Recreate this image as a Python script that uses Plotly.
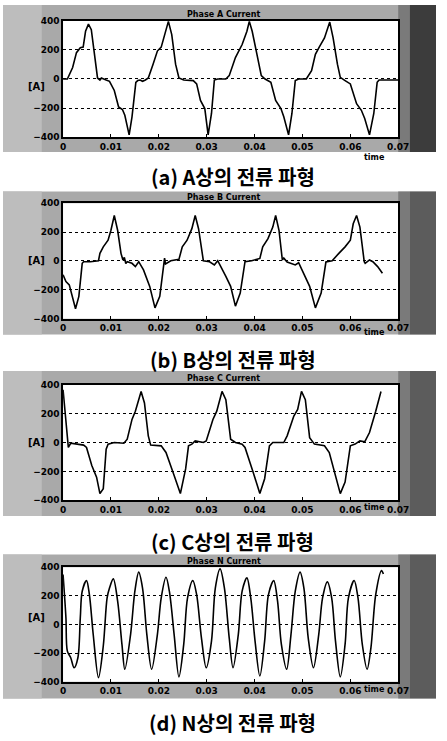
import plotly.graph_objects as go

# ---------------- data (time in ms, current in A) ----------------
a_t = [0, 0.9, 2.0, 2.8, 3.6, 4.2, 4.7, 5.3, 5.9, 6.7, 7.2, 7.7, 8.0, 9.0, 9.7, 10.7, 11.6, 12.4, 12.9, 13.8, 14.4, 15.2, 15.6, 16.1, 16.6, 17.2,
       17.8, 18.8, 19.7, 20.5, 21.2, 22.0, 22.7, 23.5, 24.2, 25.2, 27.2, 27.9, 28.7, 29.6, 30.3, 31.0, 31.6, 32.3, 34.0,
       34.7, 36.0, 37.4, 38.4, 38.9, 39.5, 40.7, 41.4, 42.2, 43.4, 44.4, 45.5, 46.1, 47.1, 47.8, 48.5, 49.2, 50.8,
       51.9, 52.7, 53.5, 54.6, 55.7, 56.4, 57.3, 57.9, 58.9, 60.0, 61.3, 62.3, 63.0, 64.0, 64.9, 65.6, 66.0, 70.0]
a_i = [0, 0, 79, 181, 215, 219, 328, 377, 339, 124, 7, -7, 7, -7, -16, -79, -192, -210, -249, -384, -260, -23, -11, -7, -16, -7,
       7, 102, 192, 219, 294, 396, 305, 102, 7, -7, -11, -34, -147, -203, -384, -237, -7, 0, 0,
       23, 147, 237, 328, 396, 328, 124, 23, 0, -23, -147, -203, -260, -384, -237, -11, 0, 0,
       57, 170, 219, 282, 391, 282, 102, 11, -11, -34, -170, -215, -271, -384, -237, -23, -7, -7]

b_t = [0, 0.6, 1.3, 2.0, 2.6, 3.3, 4.0, 4.3, 5.7, 7.4, 7.7, 8.4, 9.4, 10.0, 10.7, 11.4, 12.1, 12.5, 12.8, 13.1,
       13.4, 14.4, 15.1, 15.8, 16.8, 18.1, 19.2, 20.2, 21.0, 21.2, 21.4, 22.5, 24.2, 24.9, 25.9, 26.9, 27.6, 28.3, 29.3, 30.6,
       31.6, 32.3, 34.0, 35.0, 36.0, 37.0, 38.0, 39.4, 41.1, 41.7, 42.8, 43.8, 44.4, 45.1, 45.8, 46.1, 46.8, 48.5, 49.2, 50.5,
       51.5, 52.7, 53.9, 54.9, 56.2, 57.6, 58.9, 60.0, 60.6, 61.3, 62.0, 62.9, 63.1, 64.0, 64.7, 65.7, 66.7]
b_i = [-96, -142, -165, -245, -331, -245, -16, -5, -5, 2, 53, 98, 144, 213, 315, 213, 53, 7, 25, -18,
       -5, -16, -39, -5, -62, -176, -325, -245, -5, 20, -20, 2, 11, 98, 144, 224, 315, 224, 2, -5,
       -27, 2, -107, -176, -313, -222, -5, 2, 18, 98, 155, 235, 315, 213, 7, 20, -7, -27, -12, -107,
       -176, -325, -222, -7, 2, 53, 98, 144, 258, 315, 235, -5, -16, 7, -5, -39, -85]

c_t = [0, 0.4, 0.9, 1.1, 1.6, 3.0, 4.3, 4.9, 6.0, 7.0, 7.7, 8.4, 9.0, 9.4, 10.7, 12.7, 13.4, 14.4, 15.1, 16.3,
       17.0, 17.8, 18.3, 20.5, 21.5, 23.2, 24.5, 25.6, 26.2, 26.9, 27.6, 29.3, 29.9, 31.3, 32.1, 33.2, 34.0, 35.0, 36.0, 37.4,
       38.0, 39.7, 41.1, 42.1, 43.1, 43.8, 46.1, 46.8, 48.2, 49.0, 49.8, 50.6, 51.5, 52.5, 54.6, 55.6, 56.9, 57.9, 58.9, 60.0,
       61.0, 62.0, 63.0, 64.0, 65.3, 66.4]
c_i = [366, 229, 11, -34, -5, -11, -18, -34, -160, -240, -354, -320, -46, -11, 0, -5, 23, 160, 217, 354,
       274, 46, -18, -23, -69, -229, -354, -183, -23, -11, 11, 0, 11, 160, 217, 354, 297, 23, 0, -11,
       -34, -206, -354, -251, -23, 0, 0, 46, 183, 229, 354, 297, 34, -11, -23, -69, -240, -354, -274, -23,
       -11, 11, 5, 69, 217, 354]

d_t = [0, 0.6, 0.9, 1.6, 2.3, 3.1, 3.6, 4.0, 4.9, 5.5, 6.3, 7.4, 8.4, 9.2, 9.7, 10.5, 11.4, 12.3, 12.9, 14.1,
       15.0, 15.8, 16.6, 17.5, 18.5, 19.7, 20.5, 21.5, 22.2, 23.2, 24.2, 25.2, 26.0, 27.1, 27.9, 28.9, 29.9, 31.0, 31.8, 32.8,
       33.7, 34.7, 35.5, 36.6, 37.4, 38.4, 39.2, 40.1, 41.1, 42.1, 42.9, 44.0, 44.8, 45.6, 46.7, 47.6, 48.5, 49.5, 50.3, 51.2,
       52.3, 53.4, 54.2, 55.2, 56.1, 56.9, 57.9, 58.9, 59.6, 60.8, 61.6, 62.5, 63.5, 64.3, 65.3, 66.5, 66.9]
d_i = [350, 47, -186, -232, -302, -232, 47, 233, 307, 209, -70, -371, -150, 186, 255, 319, 163, -139, -313, -70,
       233, 366, 255, -70, -313, -70, 186, 330, 233, -70, -366, -139, 186, 307, 209, -93, -302, -116, 255, 389,
       255, -93, -302, -70, 233, 326, 186, -116, -360, -116, 209, 307, 163, -139, -313, -70, 233, 366, 255, -93,
       -302, -70, 186, 298, 186, -116, -366, -139, 186, 307, 186, -139, -313, -163, 209, 377, 353]

y_ticks = [-400, -200, 0, 200, 400]
x_ticks = [0, 0.01, 0.02, 0.03, 0.04, 0.05, 0.06, 0.07]
x_ticktext = ["0", "0.01", "0.02", "0.03", "0.04", "0.05", "0.06", "0.07"]
titles = ["Phase A Current", "Phase B Current", "Phase C Current", "Phase N Current"]
captions = ["(a) A상의 전류 파형", "(b) B상의 전류 파형", "(c) C상의 전류 파형", "(d) N상의 전류 파형"]

W, H = 447, 741
# plot-area pixel boxes (top, bottom), gray band (top, bottom), caption y
plot_tb = [(16, 134), (201, 318), (385, 502), (570, 686)]
band_tb = [(0, 149), (189, 334), (371, 518), (557, 703)]
cap_y = [174, 359, 544, 727]
X0, X1 = 62, 408

def py(p):
    return 1 - p / H

def px(p):
    return p / W

series = [(a_t, a_i), (b_t, b_i), (c_t, c_i), (d_t, d_i)]

fig = go.Figure()
shapes = []
annotations = []
layout = {}

for k, ((tt, ii), (top, bot), (bt, bb)) in enumerate(zip(series, plot_tb, band_tb)):
    n = "" if k == 0 else str(k + 1)
    fig.add_trace(go.Scatter(
        x=[t / 1000 for t in tt], y=ii, mode="lines",
        line=dict(color="black", width=1.6,
                  shape="spline" if k == 3 else "linear", smoothing=0.9),
        xaxis="x" + n, yaxis="y" + n, showlegend=False, hoverinfo="skip"))
    layout["xaxis" + n] = dict(
        domain=[px(X0), px(X1)], range=[0, 0.07], anchor="y" + n,
        tickvals=x_ticks, ticktext=x_ticktext, showgrid=False, zeroline=False,
        showline=True, linecolor="black", linewidth=1.5, mirror=True,
        ticks="inside", ticklen=3, tickcolor="black",
        tickfont=dict(size=9, color="black", family="DejaVu Sans", weight="bold"))
    layout["yaxis" + n] = dict(
        domain=[py(bot), py(top)], range=[-400, 400], anchor="x" + n,
        tickvals=y_ticks, showgrid=True, gridcolor="black", griddash="dot", gridwidth=1,
        zeroline=False, showline=True, linecolor="black", linewidth=1.5, mirror=True,
        ticks="", tickfont=dict(size=9, color="black", family="DejaVu Sans", weight="bold"))
    # gray scanned background band
    shapes.append(dict(type="rect", xref="paper", yref="paper", x0=0, x1=1,
                       y0=py(bb), y1=py(bt), fillcolor="#a9a9a9", line_width=0, layer="below"))
    shapes.append(dict(type="rect", xref="paper", yref="paper", x0=px(0), x1=px(40),
                       y0=py(bb), y1=py(bt), fillcolor="#bdbdbd", line_width=0, layer="below"))
    shapes.append(dict(type="rect", xref="paper", yref="paper", x0=px(408), x1=px(420),
                       y0=py(bb), y1=py(bt), fillcolor="#7a7a7a", line_width=0, layer="below"))
    shapes.append(dict(type="rect", xref="paper", yref="paper", x0=px(420), x1=1,
                       y0=py(bb), y1=py(bt), fillcolor="#5c5c5c" if k else "#3c3c3c",
                       line_width=0, layer="below"))
    # white plot area
    shapes.append(dict(type="rect", xref="paper", yref="paper", x0=px(X0), x1=px(X1),
                       y0=py(bot), y1=py(top), fillcolor="white", line_width=0, layer="below"))
    # title
    annotations.append(dict(text="<b>" + titles[k] + "</b>", xref="paper", yref="paper",
                            x=px(228), y=py(top - 6), showarrow=False, xanchor="center",
                            yanchor="middle", font=dict(size=8, color="black", family="DejaVu Sans")))
    # y label
    annotations.append(dict(text="<b>[A]</b>", xref="paper", yref="paper",
                            x=px(24), y=py((top + bot) / 2), showarrow=False,
                            font=dict(size=10, color="black", family="DejaVu Sans")))
    # x label
    annotations.append(dict(text="<b>time</b>", xref="paper", yref="paper",
                            x=px(396), y=py(bot + 14), showarrow=False,
                            font=dict(size=8, color="black", family="DejaVu Sans")))
    # caption
    annotations.append(dict(text="<b>" + captions[k] + "</b>", xref="paper", yref="paper",
                            x=px(237), y=py(cap_y[k]), showarrow=False, xanchor="center",
                            yanchor="middle",
                            font=dict(size=20, color="black", family="Noto Sans CJK KR")))

fig.update_layout(
    width=W, height=H, margin=dict(l=0, r=0, t=0, b=0),
    paper_bgcolor="white", plot_bgcolor="rgba(0,0,0,0)",
    shapes=shapes, annotations=annotations, **layout)

fig.write_html("out.html", config={"displayModeBar": False},
               post_script="document.body.style.margin='0';")
